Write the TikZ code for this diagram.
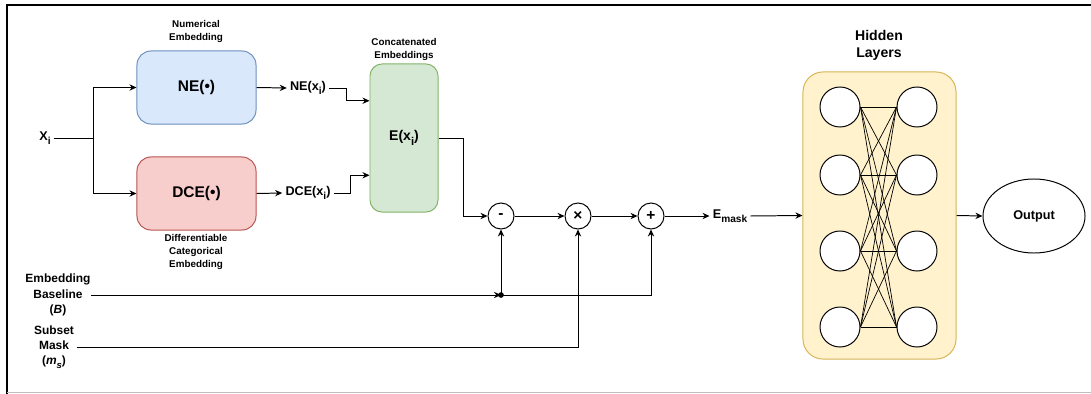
\documentclass[tikz,border=0pt]{standalone}
\usepackage{fontspec}
\setmainfont{Liberation Sans}
\usetikzlibrary{arrows.meta,calc,shapes.geometric}

\definecolor{neFill}{HTML}{DAE8FC}
\definecolor{neLine}{HTML}{6C8EBF}
\definecolor{dceFill}{HTML}{F8CECC}
\definecolor{dceLine}{HTML}{B85450}
\definecolor{eFill}{HTML}{D5E8D4}
\definecolor{eLine}{HTML}{82B366}
\definecolor{hFill}{HTML}{FFF2CC}
\definecolor{hLine}{HTML}{D6B656}
\newcommand{\lowsub}[1]{\raisebox{-0.3em}{\scalebox{0.8}{#1}}}

\begin{document}
\begin{tikzpicture}[x=0.025cm, y=-0.025cm, line width=0.7pt,
	font=\bfseries,
	arr/.style={-{Stealth[length=5pt, width=4.5pt]}},
	block/.style={draw, rounded corners=0.35cm, minimum width=2.975cm, minimum height=1.825cm, font=\bfseries\fontsize{11}{13}\selectfont},
	small/.style={align=center, font=\bfseries\fontsize{7}{9.5}\selectfont},
	lbl/.style={align=center, inner sep=2pt, font=\bfseries\fontsize{9}{10.5}\selectfont},
	op/.style={draw, circle, fill=white, minimum size=0.65cm, inner sep=0pt, font=\bfseries\fontsize{11}{11}\selectfont},
	neuron/.style={draw, circle, fill=white, minimum size=1cm, inner sep=0pt}]
	\useasboundingbox (0,0) rectangle (1091,394);
	\draw[line width=1pt] (1091,5) -- (7,5) -- (7,394);
	\draw[black!25] (7,392.5) -- (1091,392.5);
	
	% embeddings
	\node[block, fill=neFill, draw=neLine] (ne) at (196.5,87.5) {NE(•)};
	\node[block, fill=dceFill, draw=dceLine] (dce) at (196.5,193.5) {DCE(•)};
	\node[small] at (196,31.5) {Numerical\\Embedding};
	\node[small] at (196,252) {Differentiable\\Categorical\\Embedding};
	\node[lbl] (xi) at (45,138) {X\lowsub{i}};
	\draw[arr] (xi.east) -- ++(40,0) |- (ne.west);
	\draw[arr] (xi.east) -- ++(40,0) |- (dce.west);
	
	\node[draw=eLine, fill=eFill, rounded corners=0.3cm, minimum width=1.7cm, minimum height=3.7cm, font=\bfseries\fontsize{10}{12}\selectfont] (e) at (404,138) {E(x\lowsub{i})};
	\node[small] at (404,49.5) {Concatenated\\Embeddings};
	\node[lbl] (nex) at (308,88) {NE(x\lowsub{i})};
	\node[lbl] (dcex) at (308,193) {DCE(x\lowsub{i})};
	\draw[arr] (ne.east) -- (nex.west);
	\draw[arr] (dce.east) -- (dcex.west);
	\draw[arr] (nex.east) -- ++(17,0) |- ($(e.north west)!0.25!(e.south west)$);
	\draw[arr] (dcex.east) -- ++(17,0) |- ($(e.north west)!0.75!(e.south west)$);
	
	% masking
	\node[op] (minus) at (501,216) {-};
	\node[op] (times) at (578,216) {×};
	\node[op] (plus) at (651,216) {+};
	\node[lbl] (emask) at (730,216) {E\lowsub{mask}};
	\draw[arr] (e.east) -- ++(25,0) |- (minus.west);
	\draw[arr] (minus) -- (times);
	\draw[arr] (times) -- (plus);
	\draw[arr] (plus) -- (emask.west);
	
	\node[lbl, inner sep=0pt, font=\bfseries\fontsize{8.5}{11}\selectfont] (base) at (58,295) {Embedding\\Baseline\\(\textit{B})};
	\node[lbl, font=\bfseries\fontsize{8.5}{11}\selectfont] (mask) at (54,347) {Subset\\Mask\\(\textit{m}\lowsub{\textit{s}})};
	\coordinate (jb) at (501,295);
	\draw[arr] (base.east) -- (jb);
	\fill (jb) circle (2pt);
	\draw[arr] (jb) -- (minus.south);
	\draw[arr] (jb) -| (plus.south);
	\draw[arr] (mask.east) -| (times.south);
	
	% hidden layers
	\node[draw=hLine, fill=hFill, rounded corners=0.5cm, minimum width=3.825cm, minimum height=7.175cm] (hid) at (879.5,215.5) {};
	\node[lbl, font=\bfseries\fontsize{10}{12.5}\selectfont] at (879,45.5) {Hidden\\Layers};
	\foreach \k/\y in {1/107, 2/175, 3/251, 4/327} {
		\node[neuron] (l\k) at (840,\y) {};
		\node[neuron] (r\k) at (917,\y) {};
	}
	\foreach \i in {1,...,4}
		\foreach \j in {1,...,4}
			\draw[line width=0.5pt] (l\i.east) -- (r\j.west);
	\draw[arr] (emask.east) -- (hid.west);
	
	\node[draw, ellipse, minimum width=2.55cm, minimum height=1.85cm, font=\bfseries\fontsize{9}{11}\selectfont] (out) at (1034,216) {Output};
	\draw[arr] (hid.east) -- (out.west);
\end{tikzpicture}
\end{document}
